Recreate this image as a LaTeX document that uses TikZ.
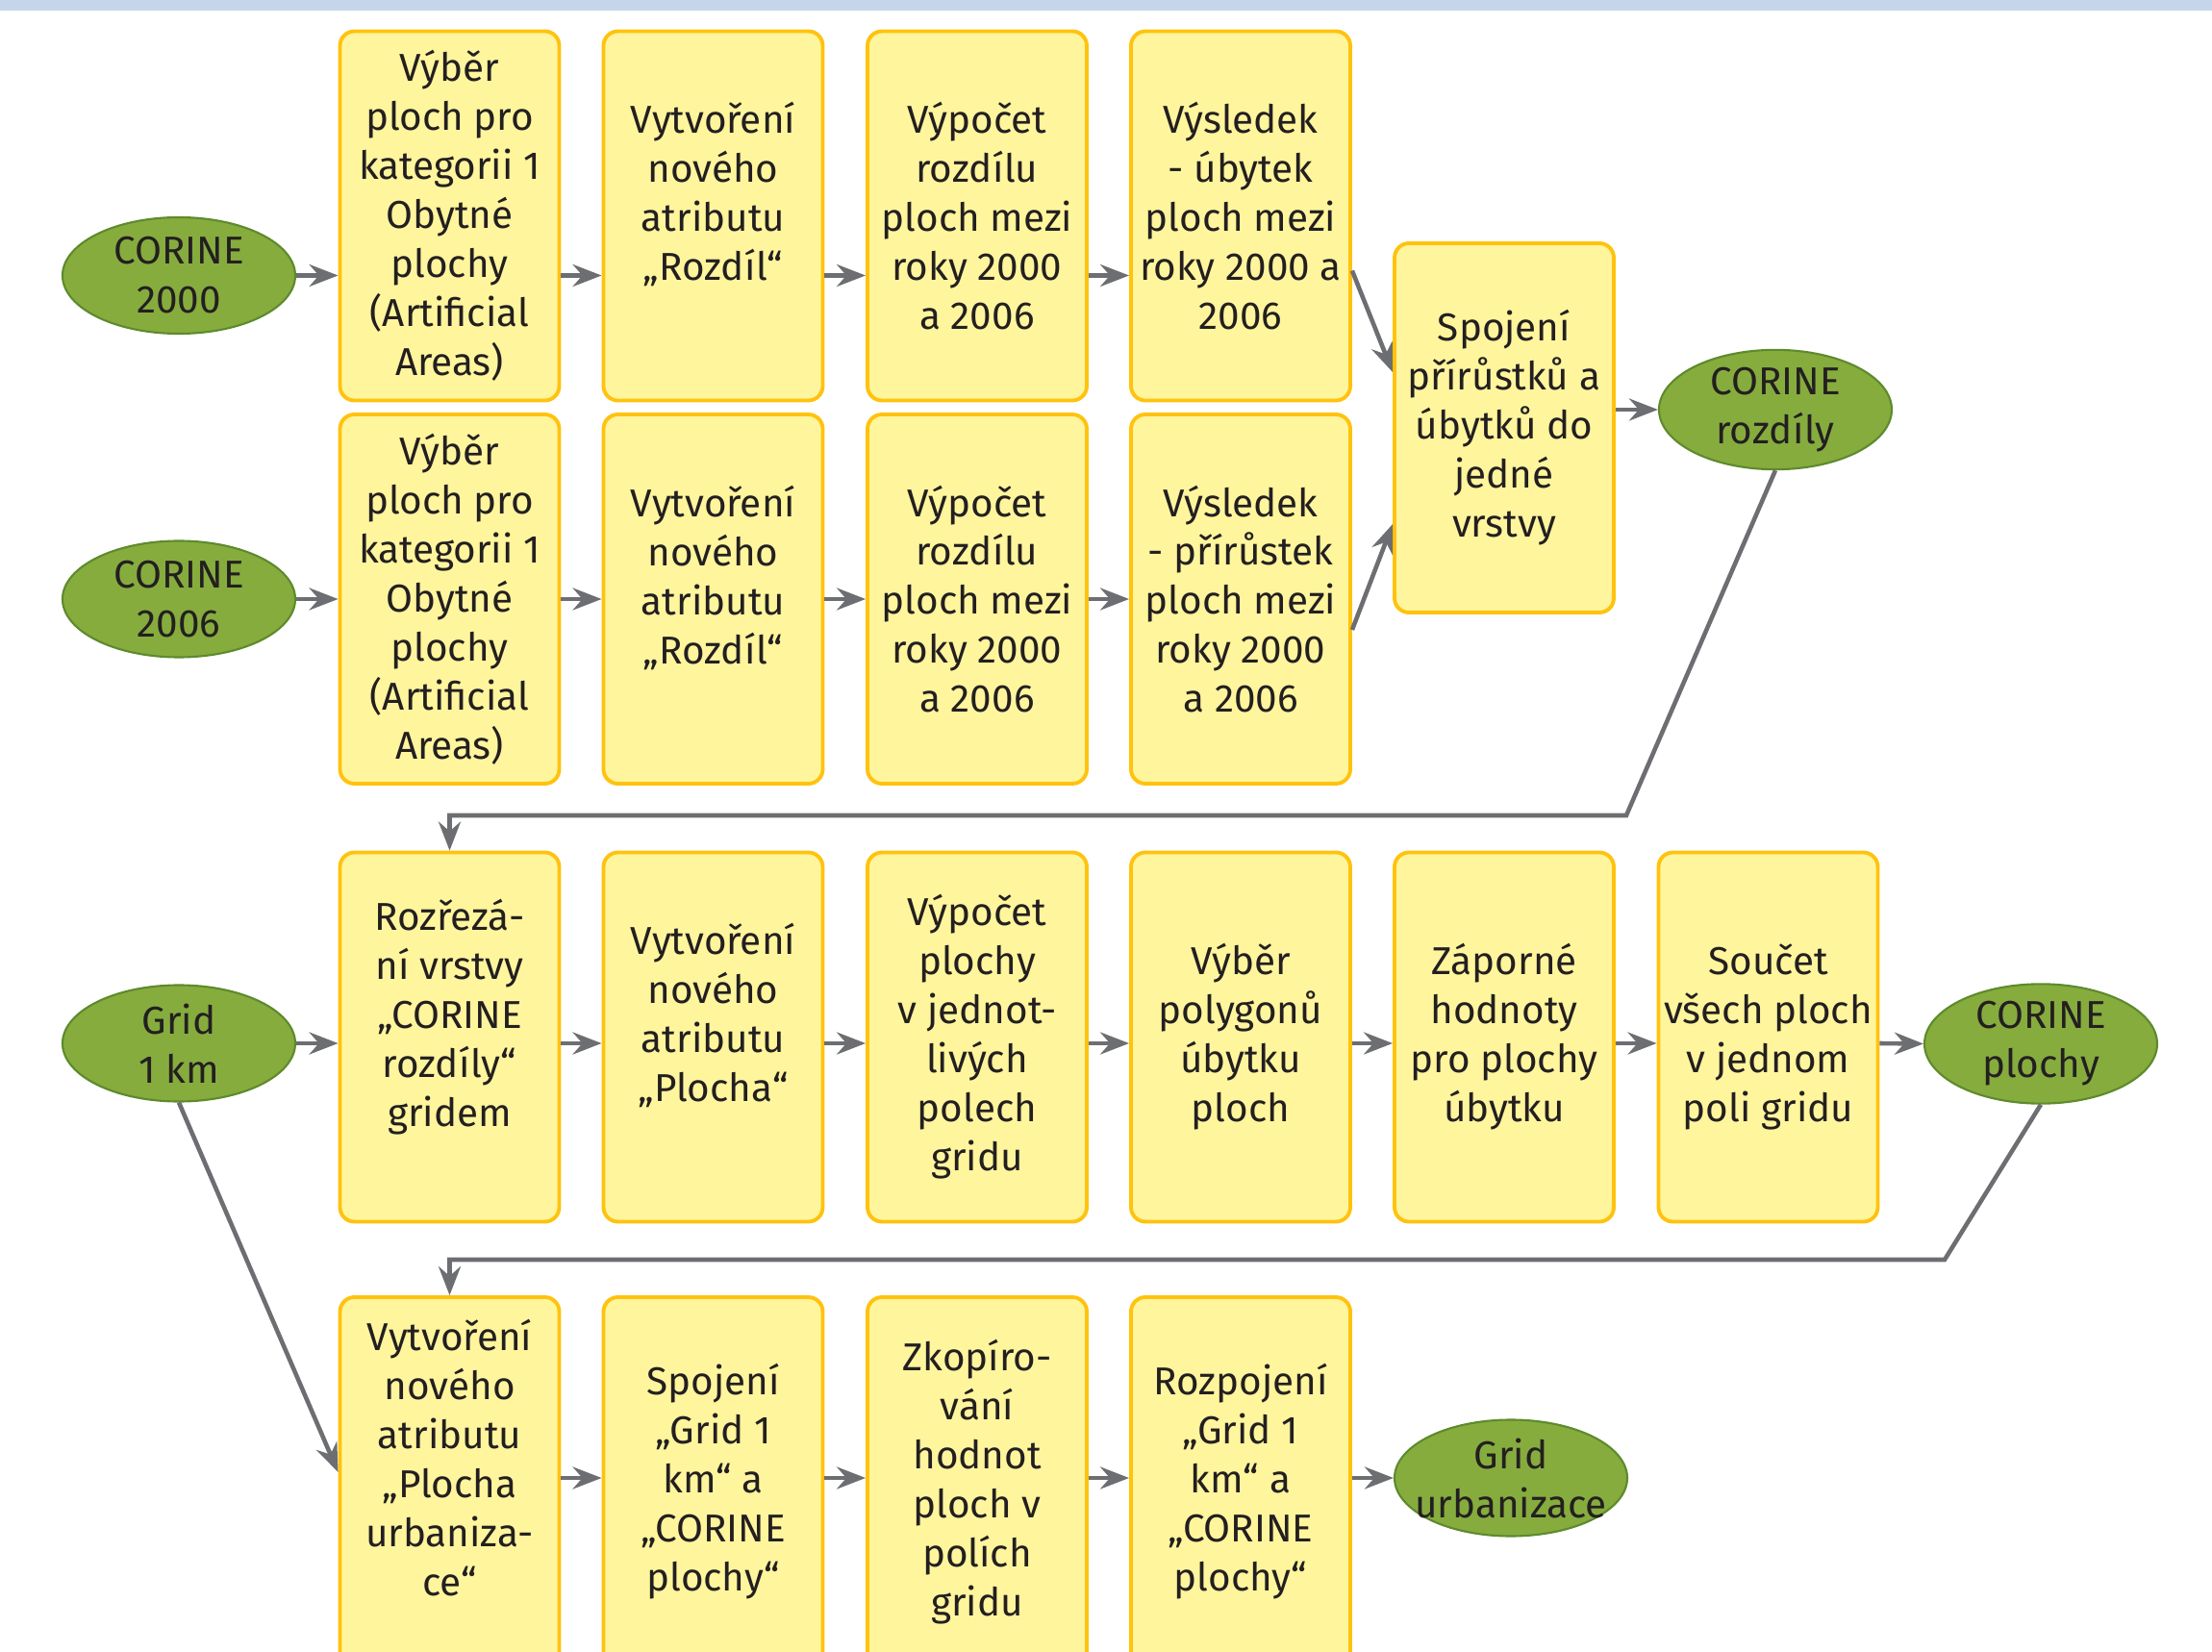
\documentclass[tikz,border=0pt]{standalone}
\usepackage{fontspec}
\setmainfont{Fira Sans}
\usepackage{xcolor}
\usepackage{tikz}
\usetikzlibrary{arrows.meta,calc,shapes.geometric}

\definecolor{zluta}{HTML}{FFF59D}
\definecolor{okraj}{HTML}{FFC20E}
\definecolor{zelena}{HTML}{86AC3E}
\definecolor{tmavozelena}{HTML}{5E8A2C}
\definecolor{seda}{HTML}{6D6E71}
\definecolor{pasmo}{HTML}{C5D5EA}
\definecolor{pismo}{HTML}{231F20}

\tikzset{
  krok/.style={draw=okraj, fill=zluta, line width=1.1pt, rounded corners=0.15cm,
    minimum width=2.28cm, minimum height=3.84cm, inner xsep=0pt, align=center,
    text=pismo, font=\fontsize{11.5}{14.5}\selectfont},
  vrstva/.style={ellipse, draw=tmavozelena, fill=zelena, line width=0.6pt,
    minimum width=2.42cm, minimum height=1.21cm, inner sep=0pt, align=center,
    text=pismo, font=\fontsize{11.5}{14.5}\selectfont},
  sipka/.style={draw=seda, line width=1.3pt, -{Stealth[length=3mm,width=2.3mm,inset=1mm]}}
}

\begin{document}
\begin{tikzpicture}
    \useasboundingbox (0,0) rectangle (23,-17.18);
    \clip (0,0) rectangle (23,-17.18);
    % Top band
    \fill[pasmo] (0,0) rectangle (23,-0.11);

    % Row 1: CORINE 2000
    \node[vrstva] (c2000) at (1.86,-2.865) {CORINE\\2000};
    \node[krok] (vyber1) at (4.675,-2.245) {Výběr\\ploch pro\\kategorii 1\\Obytné\\plochy\\(Artificial\\Areas)};
    \node[krok] (atribut1) at (7.415,-2.245) {Vytvoření\\nového\\atributu\\„Rozdíl“\\~};
    \node[krok] (vypocet1) at (10.16,-2.245) {Výpočet\\rozdílu\\ploch mezi\\roky 2000\\a 2006};
    \node[krok] (ubytek) at (12.90,-2.245) {Výsledek\\- úbytek\\ploch mezi\\roky 2000 a\\2006};

    % Row 2: CORINE 2006
    \node[vrstva] (c2006) at (1.86,-6.23) {CORINE\\2006};
    \node[krok] (vyber2) at (4.675,-6.23) {Výběr\\ploch pro\\kategorii 1\\Obytné\\plochy\\(Artificial\\Areas)};
    \node[krok] (atribut2) at (7.415,-6.23) {Vytvoření\\nového\\atributu\\„Rozdíl“\\~};
    \node[krok] (vypocet2) at (10.16,-6.23) {Výpočet\\rozdílu\\ploch mezi\\roky 2000\\a 2006};
    \node[krok] (prirustek) at (12.90,-6.23) {Výsledek\\- přírůstek\\ploch mezi\\roky 2000\\a 2006};

    % Joining both results
    \node[krok] (spojeni) at (15.64,-4.45) {Spojení\\přírůstků a\\úbytků do\\jedné\\vrstvy};
    \node[vrstva] (rozdily) at (18.46,-4.26) {CORINE\\rozdíly};

    % Row 3: grid
    \node[vrstva] (grid) at (1.86,-10.85) {Grid\\1 km};
    \node[krok] (rozrezani) at (4.675,-10.785) {Rozřezá-\\ní vrstvy\\„CORINE\\rozdíly“\\gridem\\~};
    \node[krok] (plocha) at (7.415,-10.785) {Vytvoření\\nového\\atributu\\„Plocha“\\~};
    \node[krok] (vypocetplochy) at (10.16,-10.785) {Výpočet\\plochy\\v jednot-\\livých\\polech\\gridu};
    \node[krok] (polygony) at (12.90,-10.785) {Výběr\\polygonů\\úbytku\\ploch};
    \node[krok] (zaporne) at (15.64,-10.785) {Záporné\\hodnoty\\pro plochy\\úbytku};
    \node[krok] (soucet) at (18.385,-10.785) {Součet\\všech ploch\\v jednom\\poli gridu};
    \node[vrstva] (plochy) at (21.22,-10.855) {CORINE\\plochy};

    % Row 4: urbanization
    \node[krok] (urbanizace) at (4.675,-15.41) {Vytvoření\\nového\\atributu\\„Plocha\\urbaniza-\\ce“\\~};
    \node[krok] (spojenigrid) at (7.415,-15.41) {Spojení\\„Grid 1\\km“ a\\„CORINE\\plochy“};
    \node[krok] (kopirovani) at (10.16,-15.41) {Zkopíro-\\vání\\hodnot\\ploch v\\polích\\gridu};
    \node[krok] (rozpojeni) at (12.90,-15.41) {Rozpojení\\„Grid 1\\km“ a\\„CORINE\\plochy“};
    \node[vrstva] (gridurb) at (15.71,-15.37) {Grid\\\makebox[1.5cm]{urbanizace}};

    % Arrows row 1
    \draw[sipka] (c2000.east) -- (vyber1.west |- c2000.east);
    \draw[sipka] (vyber1.east |- c2000.east) -- (atribut1.west |- c2000.east);
    \draw[sipka] (atribut1.east |- c2000.east) -- (vypocet1.west |- c2000.east);
    \draw[sipka] (vypocet1.east |- c2000.east) -- (ubytek.west |- c2000.east);

    % Arrows row 2
    \draw[sipka] (c2006.east) -- (vyber2.west);
    \draw[sipka] (vyber2.east) -- (atribut2.west);
    \draw[sipka] (atribut2.east) -- (vypocet2.west);
    \draw[sipka] (vypocet2.east) -- (prirustek.west);

    % Into the joined layer
    \draw[sipka] ($(ubytek.east)+(0,-0.57)$) -- ($(spojeni.west)+(0,0.58)$);
    \draw[sipka] ($(prirustek.east)+(0,-0.32)$) -- ($(spojeni.west)+(0,-1.00)$);
    \draw[sipka] (spojeni.east |- rozdily.west) -- (rozdily.west);

    % Back to row 3
    \coordinate (zlom1) at (16.91,-8.48);
    \draw[sipka] (rozdily.south) -- (zlom1) -- (zlom1 -| rozrezani.north) -- (rozrezani.north);

    % Arrows row 3
    \draw[sipka] (grid.east) -- (rozrezani.west |- grid.east);
    \draw[sipka] (rozrezani.east |- grid.east) -- (plocha.west |- grid.east);
    \draw[sipka] (plocha.east |- grid.east) -- (vypocetplochy.west |- grid.east);
    \draw[sipka] (vypocetplochy.east |- grid.east) -- (polygony.west |- grid.east);
    \draw[sipka] (polygony.east |- grid.east) -- (zaporne.west |- grid.east);
    \draw[sipka] (zaporne.east |- grid.east) -- (soucet.west |- grid.east);
    \draw[sipka] (soucet.east |- grid.east) -- (plochy.west);

    % Back to row 4
    \coordinate (zlom2) at (20.22,-13.10);
    \draw[sipka] (plochy.south) -- (zlom2) -- (zlom2 -| urbanizace.north) -- (urbanizace.north);
    \draw[sipka] (grid.south) -- ($(urbanizace.west)+(0,0.1)$);

    % Arrows row 4
    \draw[sipka] (urbanizace.east |- gridurb.west) -- (spojenigrid.west |- gridurb.west);
    \draw[sipka] (spojenigrid.east |- gridurb.west) -- (kopirovani.west |- gridurb.west);
    \draw[sipka] (kopirovani.east |- gridurb.west) -- (rozpojeni.west |- gridurb.west);
    \draw[sipka] (rozpojeni.east |- gridurb.west) -- (gridurb.west);
\end{tikzpicture}
\end{document}
